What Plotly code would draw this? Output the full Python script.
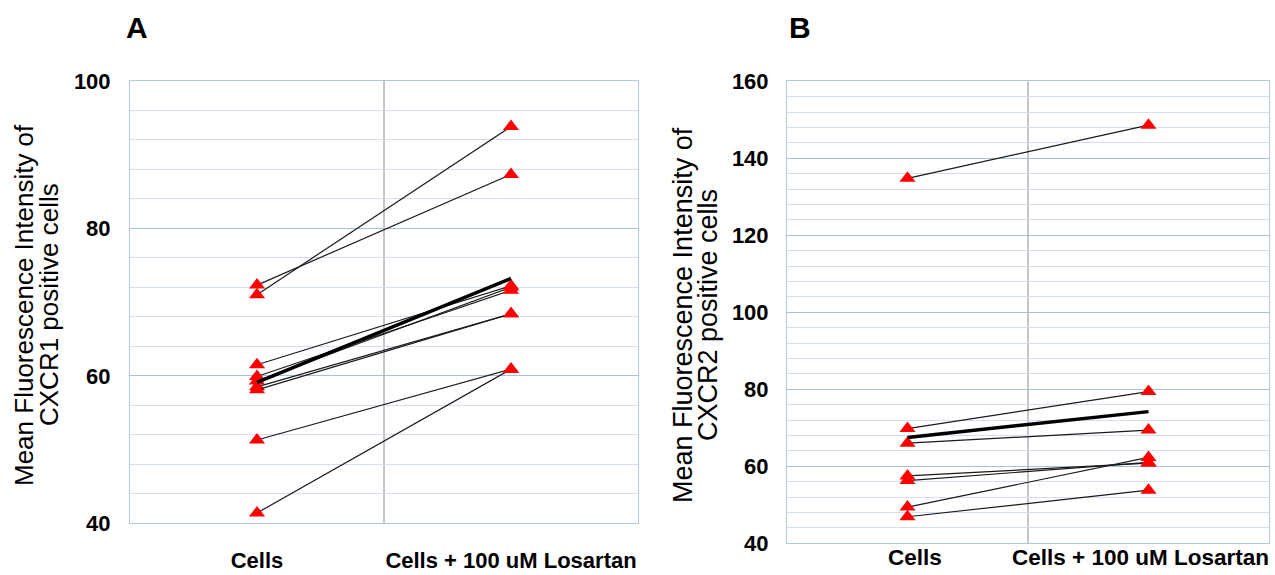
import plotly.graph_objects as go

# Two paired-sample panels: MFI before/after losartan treatment
categories = ["Cells", "Cells + 100 uM Losartan"]

# Panel A: CXCR1
cells_a = [71.0, 72.3, 61.5, 59.9, 59.3, 58.5, 58.1, 51.3, 41.4]
losartan_a = [93.8, 87.3, 72.2, 71.6, 72.0, 68.4, 68.4, 60.9, 60.9]
mean_a = [59.1, 73.2]

# Panel B: CXCR2
cells_b = [134.8, 69.8, 66.0, 57.5, 56.3, 49.4, 46.9]
losartan_b = [148.6, 79.4, 69.4, 60.8, 61.0, 62.3, 53.8]
mean_b = [67.5, 74.2]

yticks_a = [40, 60, 80, 100]
yticks_b = [40, 60, 80, 100, 120, 140, 160]

W, H = 1275, 575
FONT = "Liberation Sans, Arial, sans-serif"
MAJOR = "#A9BFDE"
MINOR = "#D3DEEF"
BORDER = "#B4C6E0"

fig = go.Figure()


def add_pairs(before, after, mean, xa, ya):
    for b, a in zip(before, after):
        fig.add_trace(go.Scatter(
            x=[0, 1], y=[b, a], xaxis=xa, yaxis=ya, mode="lines+markers",
            line=dict(color="#1a1a1a", width=1.2),
            marker=dict(symbol="triangle-up", size=14, color="#FF0000",
                        line=dict(width=0)),
            showlegend=False, hoverinfo="y"))
    fig.add_trace(go.Scatter(
        x=[0, 1], y=mean, xaxis=xa, yaxis=ya, mode="lines",
        line=dict(color="#000000", width=3.5),
        showlegend=False, hoverinfo="y"))


add_pairs(cells_a, losartan_a, mean_a, "x", "y")
add_pairs(cells_b, losartan_b, mean_b, "x2", "y2")


def xaxis_cfg(x0, x1, anchor, show_labels):
    return dict(
        domain=[x0 / W, x1 / W], range=[-0.5, 1.5], anchor=anchor,
        tickvals=[0, 1], ticktext=categories, showticklabels=show_labels,
        tickfont=dict(family=FONT, size=22, color="#000000", weight="bold"),
        showgrid=False, zeroline=False, showline=True, mirror=True,
        linecolor=BORDER, linewidth=1, ticks="", ticklabelstandoff=17,
        automargin=False, fixedrange=True)


def yaxis_cfg(top, bottom, rng, ticks, anchor, standoff):
    return dict(
        domain=[1 - bottom / H, 1 - top / H], range=rng, anchor=anchor,
        tickvals=ticks, tickmode="array",
        tickfont=dict(family=FONT, size=22, color="#000000", weight="bold"),
        showgrid=True, gridcolor=MAJOR, gridwidth=1,
        minor=dict(dtick=4, tick0=0, showgrid=True, gridcolor=MINOR,
                   gridwidth=1, ticks=""),
        zeroline=False, showline=True, mirror=True,
        linecolor=BORDER, linewidth=1, ticks="", ticklabelstandoff=standoff,
        automargin=False, fixedrange=True)


fig.update_layout(
    width=W, height=H,
    margin=dict(l=0, r=0, t=0, b=0, autoexpand=False),
    paper_bgcolor="white", plot_bgcolor="white",
    xaxis=xaxis_cfg(130, 638, "y", True),
    yaxis=yaxis_cfg(80.8, 523.3, [40, 100], yticks_a, "x", 14),
    xaxis2=xaxis_cfg(787, 1269, "y2", False),
    yaxis2=yaxis_cfg(81.3, 543.3, [40, 160], yticks_b, "x2", 13),
    showlegend=False,
)

# Panel B category labels sit tight under the axis, nudged inward
for xv, label, shift in zip([0, 1], categories, [7, -8]):
    fig.add_annotation(x=xv, xref="x2", y=1 - 557.5 / H, yref="paper",
                       xanchor="center", yanchor="middle", xshift=shift,
                       text="<b>" + label + "</b>", showarrow=False,
                       font=dict(family=FONT, size=22.5, color="#000000"))

# Category divider lines
for xr, yr in (("x", "y domain"), ("x2", "y2 domain")):
    fig.add_shape(type="line", xref=xr, yref=yr, x0=0.5, x1=0.5, y0=0, y1=1,
                  line=dict(color="#8C8C8C", width=1), layer="below")

# Panel letters
for x, t in ((137, "A"), (800, "B")):
    fig.add_annotation(x=x / W, y=1 - 27 / H, xref="paper", yref="paper",
                       xanchor="center", yanchor="middle",
                       text="<b>" + t + "</b>", showarrow=False,
                       font=dict(family=FONT, size=30, color="#000000"))

# Y-axis titles (two lines each)
titles = [
    (24, 305, "Mean Fluorescence Intensity of", 26),
    (49, 305, "CXCR1 positive cells", 26),
    (683, 315, "Mean Fluorescence Intensity of", 27),
    (708, 315, "CXCR2 positive cells", 27),
]
for x, y, t, s in titles:
    fig.add_annotation(x=x / W, y=1 - y / H, xref="paper", yref="paper",
                       xanchor="center", yanchor="middle",
                       text=t, showarrow=False, textangle=-90,
                       font=dict(family=FONT, size=s, color="#000000"))

fig.write_html("out.html")
